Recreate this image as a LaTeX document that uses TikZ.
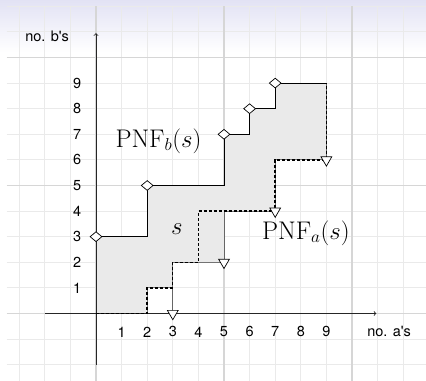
\documentclass[tikz,border=0pt]{standalone}
\usepackage{fontspec}
\newfontfamily\hv{TeX Gyre Heros}
\usetikzlibrary{shapes.geometric}
\definecolor{lav}{RGB}{226,226,244}
\definecolor{thingrid}{RGB}{234,234,234}
\definecolor{thickgrid}{RGB}{214,214,214}
\definecolor{regionfill}{RGB}{234,234,234}
\tikzset{
  dmark/.style={diamond, draw=black, fill=white, line width=0.7pt, inner sep=0pt, minimum width=12pt, minimum height=10pt},
  tmark/.style={regular polygon, regular polygon sides=3, shape border rotate=180, draw=black, fill=white, line width=0.7pt, inner sep=0pt, minimum size=12.5pt},
  num/.style={font=\hv\fontsize{14.5}{16}\selectfont, inner sep=0pt},
  mlabel/.style={font=\fontsize{25.5}{30}\selectfont, inner sep=0pt},
  spath/.style={line width=1.4pt, dash pattern=on 3pt off 2pt},
  axisline/.style={line width=0.8pt, draw=black!85, ->},
}
\begin{document}
\begin{tikzpicture}[x=25.6pt, y=25.6pt]
\useasboundingbox (-3.75,-2.637) rectangle (12.891,12.246);
% background
\fill[white] (-3.75,-2.637) rectangle (12.891,12.246);
\shade[top color=lav, bottom color=white] (-3.75,10.2) rectangle (12.891,12.246);
% grid
\begin{scope}
\clip (-3.75,-2.637) rectangle (12.891,12.246);
\draw[thingrid, line width=1pt] (-3.48,-3) grid[step=1] (13,12);
\draw[thickgrid, line width=1.3pt] (-3.48,-3) grid[step=5] (13,12);
\end{scope}
% shaded region
\fill[regionfill, draw=black!55, line width=0.8pt]
  (0,0) -- (0,3) -- (2,3) -- (2,5) -- (5,5) -- (5,7) -- (6,7) -- (6,8) -- (7,8) -- (7,9) -- (9,9)
  -- (9,6) -- (7,6) -- (7,4) -- (5,4) -- (5,2) -- (3,2) -- (3,1) -- (2,1) -- (2,0) -- cycle;
% axes
\draw[axisline] (-2,0) -- (10.95,0);
\draw[axisline] (0,-2) -- (0,10.95);
% PNF_b staircase
\draw[black, line width=0.8pt] (0,3) -- (2,3) -- (2,5) -- (5,5) -- (5,7) -- (6,7) -- (6,8) -- (7,8) -- (7,9) -- (9,9);
% PNF_a drops
\draw[black!60, line width=0.8pt] (3,1) -- (3,0);
\draw[black!60, line width=0.8pt] (5,4) -- (5,2);
\draw[black!60, line width=0.8pt] (7,6) -- (7,4);
\draw[black!60, line width=0.8pt] (9,9) -- (9,6);
% path s
\draw[spath] (0,0) -- (2,0) -- (2,1) -- (3,1) -- (3,2) -- (4,2) -- (4,4) -- (7,4) -- (7,6) -- (9,6) -- (9,9);
% marks
\node[dmark] (b1) at (0,3) {};
\node[dmark] (b2) at (2,5) {};
\node[dmark] (b3) at (5,7) {};
\node[dmark] (b4) at (6,8) {};
\node[dmark] (b5) at (7,9) {};
\node[tmark] (a1) at (3,0) {};
\node[tmark] (a2) at (5,2) {};
\node[tmark] (a3) at (7,4) {};
\node[tmark] (a4) at (9,6) {};
% tick labels
\foreach \i in {1,...,9} {
  \node[num] (xl\i) at (\i,-0.72) {\i};
  \node[num] (yl\i) at (-0.74,\i) {\i};
}
\node[num] (ylab) at (-1.91,10.84) {no. b's};
\node[num] (xlab) at (11.45,-0.72) {no. a's};
% labels
\node[mlabel] (pnfb) at (2.44,6.74) {$\mathrm{PNF}_b(s)$};
\node[mlabel] (pnfa) at (8.2,3.15) {$\mathrm{PNF}_a(s)$};
\node[mlabel] (slab) at (3.16,3.3) {$s$};
\end{tikzpicture}
\end{document}
